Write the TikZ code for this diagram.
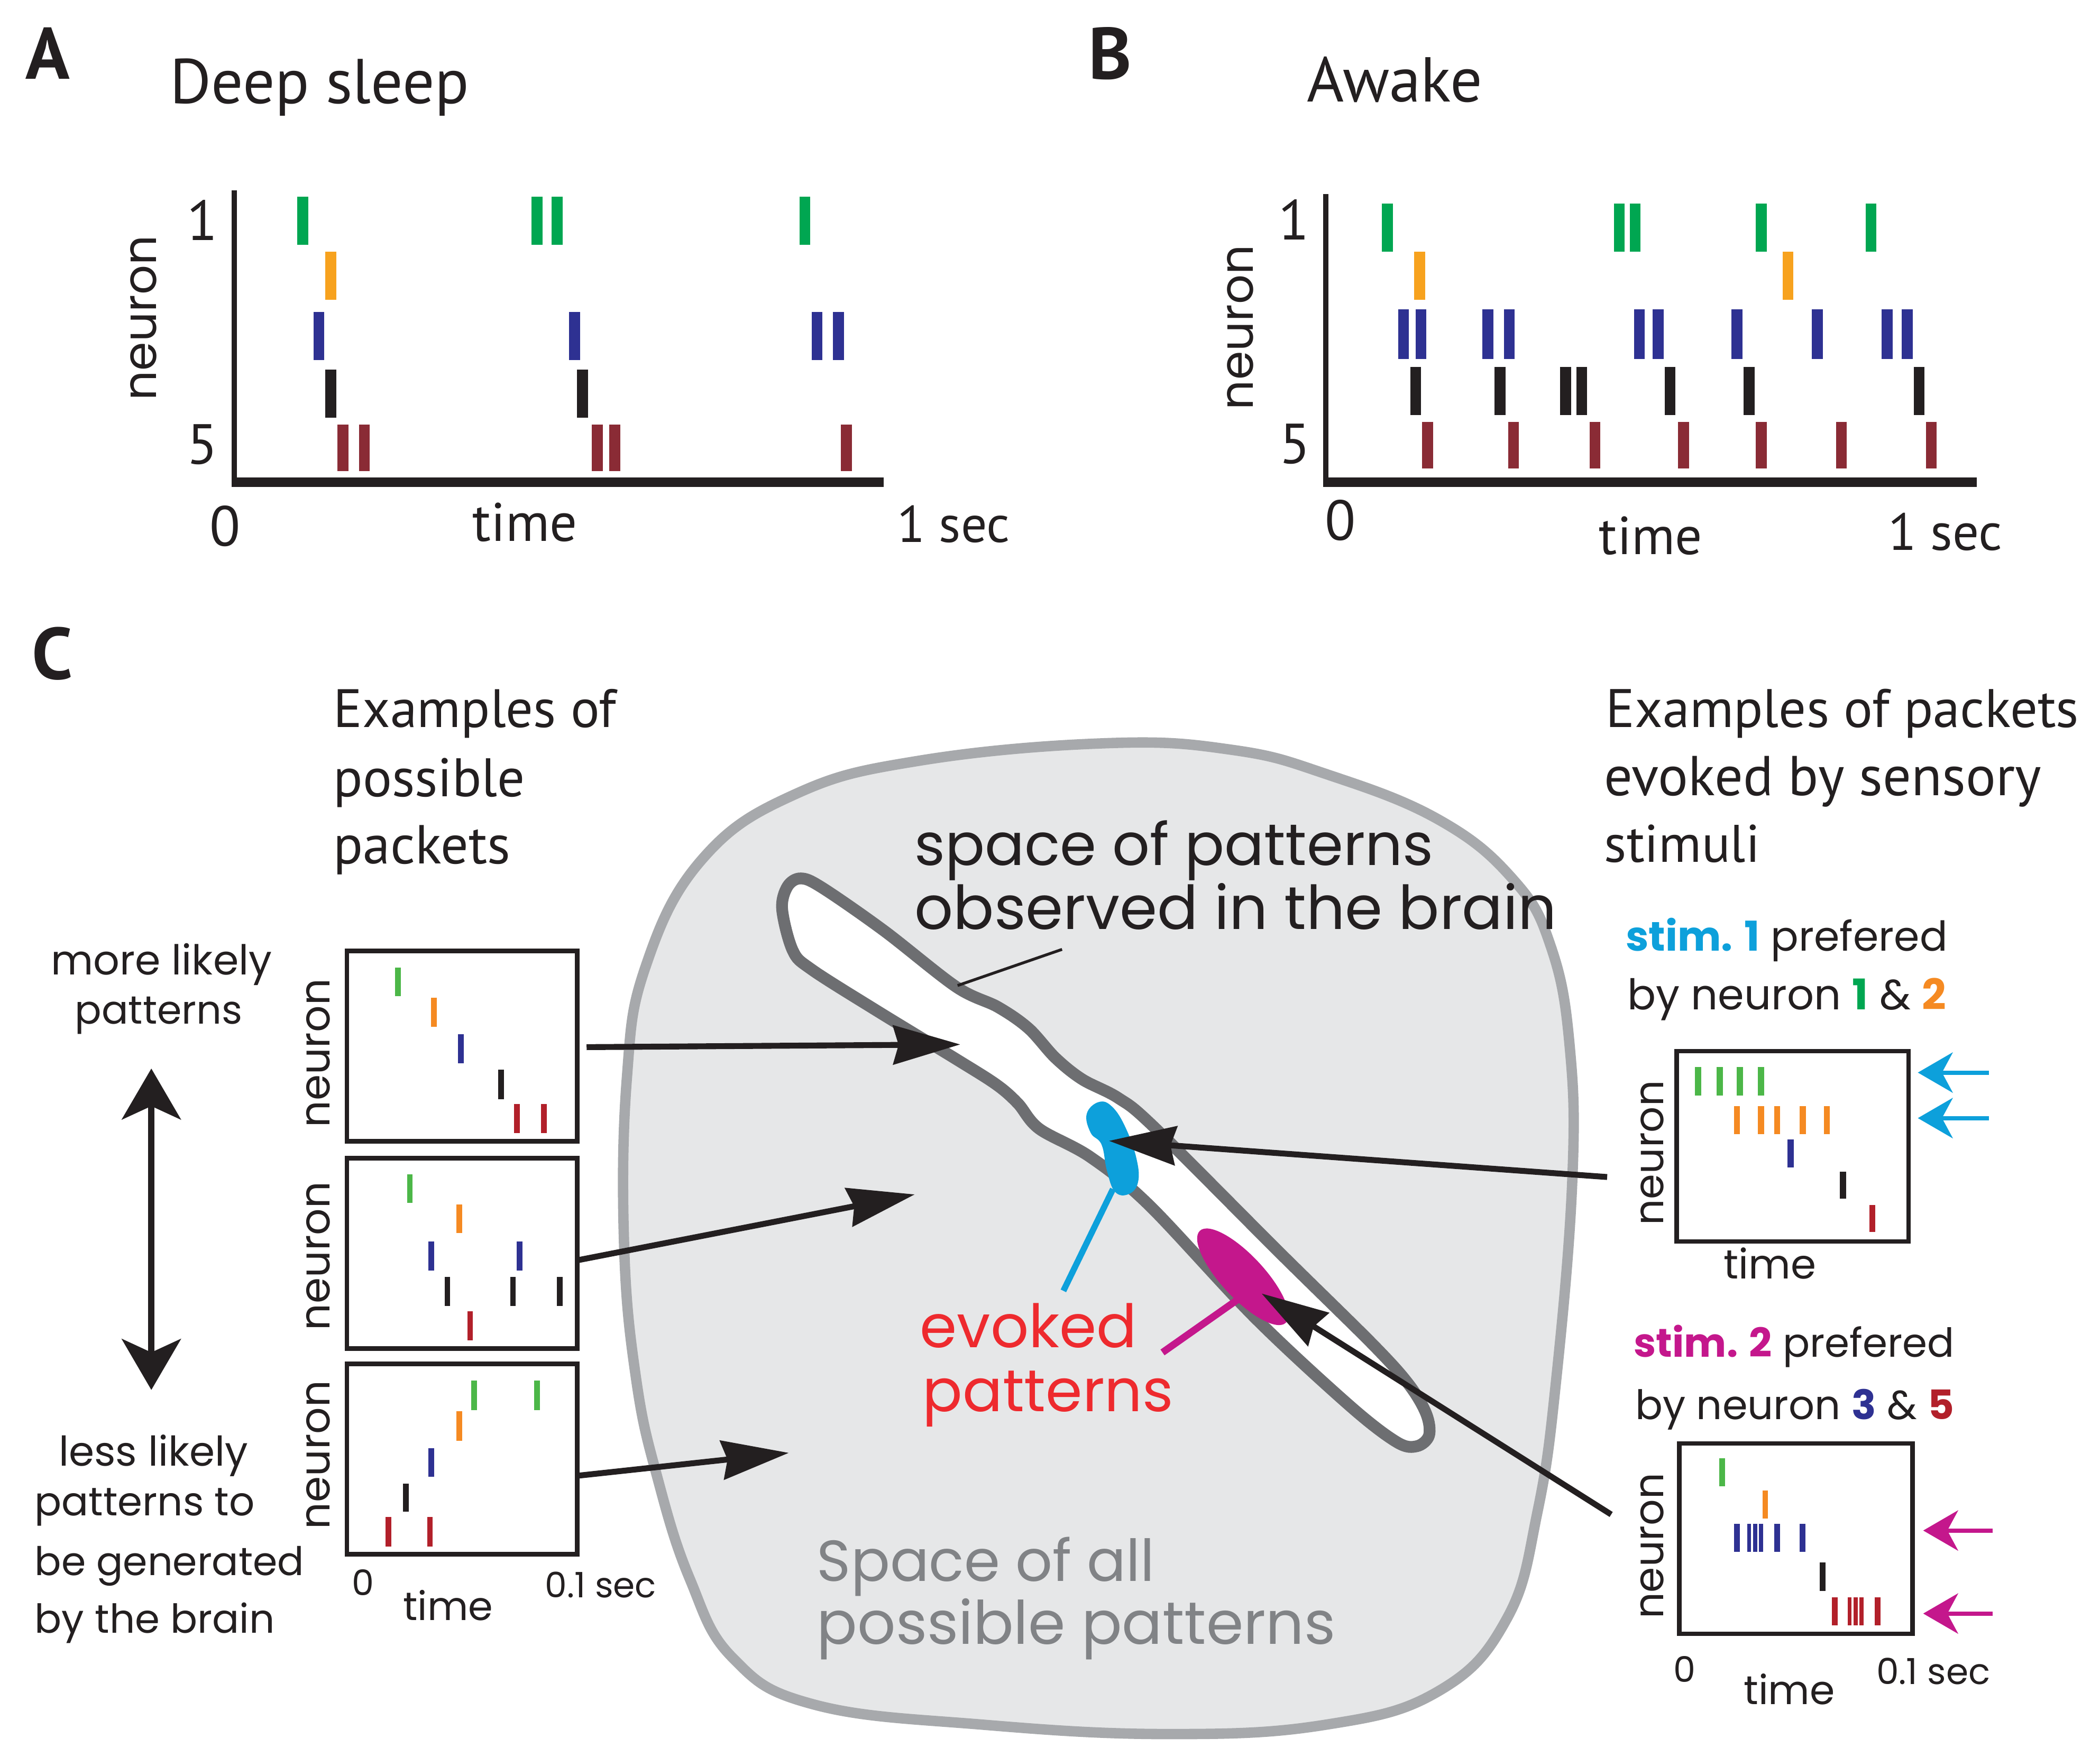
\documentclass[tikz,border=0pt]{standalone}
\usepackage{fontspec}
\setmainfont{Poppins}
\newfontfamily\myr{PT Sans}
\usetikzlibrary{arrows.meta}
\definecolor{tk}{HTML}{231F20}
\definecolor{sg}{HTML}{00A651}
\definecolor{so}{HTML}{F7A21E}
\definecolor{sb}{HTML}{2E3192}
\definecolor{sr}{HTML}{8A2B35}
\definecolor{cg}{HTML}{4CB748}
\definecolor{co}{HTML}{F58A22}
\definecolor{cr}{HTML}{B2202A}
\definecolor{cy}{HTML}{0DA0DB}
\definecolor{mg}{HTML}{C4178C}
\definecolor{evr}{HTML}{EE2A2E}
\definecolor{gfill}{HTML}{E6E7E8}
\definecolor{gline}{HTML}{A7A9AC}
\definecolor{gin}{HTML}{6D6E71}
\definecolor{gtext}{HTML}{818386}
\newcommand\fw[2]{\resizebox{#1mm}{!}{#2}}
\newcommand\spikes[5]{\foreach \xx in {#5}{\draw[draw=#1, line width=#4] (\xx,#2) -- (\xx,#3);}}
\begin{document}
\begin{tikzpicture}[x=0.01cm,y=-0.01cm,
  lbl/.style={inner sep=0pt, outer sep=0pt, anchor=base west, text=tk},
  cl/.style={inner sep=0pt, outer sep=0pt, anchor=center, text=tk},
  rot/.style={inner sep=0pt, outer sep=0pt, anchor=center, rotate=90, text=tk},
  big/.style={cl, font=\myr\bfseries\fontsize{15.5}{15.5}\selectfont},
  dig/.style={cl, font=\myr\fontsize{12}{12}\selectfont},
  sdig/.style={cl, font=\fontsize{7.5}{7.5}\selectfont},
  pbox/.style={draw=tk, line width=0.95pt, inner sep=0pt, minimum width=1.72cm, minimum height=1.42cm},
  barrow/.style={draw=tk, line width=1.25pt, -{Stealth[length=5mm,width=2.9mm,inset=0.4mm]}},
  sarrow/.style={line width=0.9pt, -{Stealth[length=2.6mm,width=3mm,inset=0.8mm]}}
]
\useasboundingbox (0,0) rectangle (1568,1312);
\fill[white] (0,0) rectangle (1568,1312);

% ---------------- Panel A ----------------
\node[big] (labA) at (35.5,40) {A};
\node[lbl, font=\myr] (tA) at (127,77) {\fw{22.3}{Deep sleep}};
\node[rot] (nA) at (107,237.5) {\fw{12.3}{neuron}};
\node[dig] (a1) at (151,164.5) {1};
\node[dig] (a5) at (151,332) {5};
\node[dig] (a0) at (168,393) {0};
\node[lbl, font=\myr] (atime) at (353,404) {\fw{7.8}{time}};
\node[lbl, font=\myr] (asec) at (670,405) {\fw{8.4}{1 sec}};
\draw[tk, line width=1.1pt] (175,142) -- (175,362);
\draw[tk, line width=2pt] (173,360) -- (660,360);
\spikes{sg}{147}{183}{2.3pt}{226,401,416,601}
\spikes{so}{188}{224}{2.3pt}{247}
\spikes{sb}{233}{269}{2.3pt}{238,429,610,626}
\spikes{tk}{276}{312}{2.3pt}{247,435}
\spikes{sr}{317}{352}{2.3pt}{256,272,446,459,632}

% ---------------- Panel B ----------------
\node[big] (labB) at (829,40) {B};
\node[lbl, font=\myr] (tB) at (976,76) {\fw{13.1}{Awake}};
\node[rot] (nB) at (926,244.5) {\fw{12.3}{neuron}};
\node[dig] (b1) at (966,164) {1};
\node[dig] (b5) at (967,331.5) {5};
\node[dig] (b0) at (1001,388.5) {0};
\node[lbl, font=\myr] (btime) at (1194,414) {\fw{7.7}{time}};
\node[lbl, font=\myr] (bsec) at (1410,411) {\fw{8.5}{1 sec}};
\draw[tk, line width=1.1pt] (990,145) -- (990,362);
\draw[tk, line width=2pt] (988,360) -- (1476,360);
\spikes{sg}{152}{188}{2.3pt}{1036,1209,1221,1315,1397}
\spikes{so}{188}{224}{2.3pt}{1060,1335}
\spikes{sb}{231}{268}{2.3pt}{1048,1061,1111,1127,1224,1238,1297,1357,1409,1424}
\spikes{tk}{274}{310}{2.3pt}{1057,1120,1169,1181,1247,1306,1433}
\spikes{sr}{315}{350}{2.3pt}{1066,1130,1191,1257,1315,1375,1442}

% ---------------- Panel C ----------------
\node[big] (labC) at (39,488) {C};
\node[lbl, font=\myr] (ex1) at (249,543) {\fw{21.1}{Examples of}};
\node[lbl, font=\myr] (ex2) at (249,595) {\fw{14.3}{possible}};
\node[lbl, font=\myr] (ex3) at (249,645) {\fw{13.2}{packets}};
\node[lbl, font=\myr] (ey1) at (1199,543) {\fw{35.3}{Examples of packets}};
\node[lbl, font=\myr] (ey2) at (1198,594) {\fw{32.6}{evoked by sensory}};
\node[lbl, font=\myr] (ey3) at (1198,644) {\fw{11.6}{stimuli}};

% big blob
\filldraw[fill=gfill, draw=gline, line width=2.2pt] plot[smooth cycle, tension=0.7] coordinates {
 (827,555) (920,560) (990,578) (1074,612) (1130,657) (1158,707) (1172,781) (1174,881)
 (1162,1030) (1148,1129) (1125,1209) (1074,1263) (990,1288) (873,1295) (734,1288)
 (608,1273) (547,1238) (515,1179) (491,1104) (475,1030) (466,930) (468,806) (482,722)
 (524,642) (594,593) (687,568)};
% inner elongated space
\filldraw[fill=white, draw=gin, line width=2.5pt] plot[smooth cycle, tension=0.55] coordinates {
 (584,679) (588,662) (598,656) (614,663) (660,695) (714,737) (745,752) (768,768) (788,790)
 (808,806) (835,820) (862,842) (955,935) (1025,1004) (1052,1034) (1065,1056) (1067,1072)
 (1058,1080) (1043,1077) (1008,1050) (937,984) (858,900) (814,864) (776,843) (760,824)
 (744,810) (714,791) (655,755) (606,724) (592,710)};
% blue blob
\fill[cy] plot[smooth cycle, tension=0.7] coordinates {
 (811.4,831.9) (820.4,823) (830.5,826.6) (840.6,842.5) (848.6,865.4) (849.7,883) (842.6,891.8)
 (832.5,890) (826.5,874.2) (822.5,854.8) (814.4,846)};
\draw[cy, line width=1.3pt] (831,888) -- (794,964);
% magenta ellipse
\begin{scope}[shift={(928,953.5)}, rotate=-47]
\fill[mg] (0,0) ellipse [x radius=47, y radius=16];
\end{scope}
\draw[mg, line width=1.5pt] (927,968.5) -- (868,1010);

\node[lbl] (sp1) at (683,646) {\fw{38.7}{space of patterns}};
\node[lbl] (sp2) at (683,694) {\fw{47.9}{observed in the brain}};
\coordinate (pt1) at (793,709);
\coordinate (pt2) at (715,736);
\draw[tk, line width=0.6pt] (pt1) -- (pt2);
\node[lbl, text=evr] (ev1) at (687,1006.5) {\fw{16.2}{evoked}};
\node[lbl, text=evr] (ev2) at (689,1054) {\fw{18.7}{patterns}};
\node[lbl, text=gtext] (sa1) at (610,1181) {\fw{25.2}{Space of all}};
\node[lbl, text=gtext] (sa2) at (610,1228) {\fw{38.7}{possible patterns}};

% left texts
\node[lbl] (ml1) at (38,728) {\fw{16.5}{more likely}};
\node[lbl] (ml2) at (56,764.6) {\fw{12.5}{patterns}};
\node[lbl] (ll1) at (44,1094.6) {\fw{14.1}{less likely}};
\node[lbl] (ll2) at (26,1132) {\fw{16.4}{patterns to}};
\node[lbl] (ll3) at (26,1176.5) {\fw{20.1}{be generated}};
\node[lbl] (ll4) at (26,1219.6) {\fw{17.9}{by the brain}};
\coordinate (dtop) at (113,798);
\coordinate (dbot) at (113,1038);
\draw[tk, line width=1.3pt, {Stealth[length=3.8mm,width=4.4mm,inset=1mm]}-{Stealth[length=3.8mm,width=4.4mm,inset=1mm]}] (dtop) -- (dbot);

% left boxes
\node[pbox] (box1) at (345,781.2) {};
\node[pbox] (box2) at (345,936) {};
\node[pbox] (box3) at (345,1089.6) {};
\node[rot] (nC1) at (237.5,786.5) {\fw{11.1}{neuron}};
\node[rot] (nC2) at (237.5,938) {\fw{11.1}{neuron}};
\node[rot] (nC3) at (237.5,1086.5) {\fw{11.1}{neuron}};
\node[sdig] (c0) at (271,1182) {0};
\node[lbl] (ctime) at (301,1210) {\fw{6.7}{time}};
\node[lbl] (csec) at (407,1193) {\fw{8.3}{0.1 sec}};
% box1 spikes
\spikes{cg}{722.5}{744}{1.2pt}{297}
\spikes{co}{745}{767}{1.2pt}{324}
\spikes{sb}{772.5}{794}{1.2pt}{344}
\spikes{tk}{799}{821}{1.2pt}{374}
\spikes{cr}{824.6}{846}{1.2pt}{386,406}
% box2 spikes
\spikes{cg}{877}{898.5}{1.2pt}{306}
\spikes{co}{899.5}{921}{1.2pt}{343}
\spikes{sb}{927}{949}{1.2pt}{322,388}
\spikes{tk}{953.7}{975.4}{1.2pt}{334,383,418}
\spikes{cr}{979.3}{1001}{1.2pt}{351}
% box3 spikes
\spikes{cg}{1031}{1053}{1.2pt}{354,401}
\spikes{co}{1054}{1076}{1.2pt}{343}
\spikes{sb}{1081.5}{1103}{1.2pt}{322}
\spikes{tk}{1108}{1129}{1.2pt}{303}
\spikes{cr}{1133}{1155}{1.2pt}{290,321}

% right boxes
\node[lbl] (st1) at (1214,710) {\fw{24.0}{\textcolor{cy}{\bfseries stim. 1} prefered}};
\node[lbl] (bn1) at (1215,754) {\fw{23.8}{by neuron \textcolor{sg}{\bfseries 1} \& \textcolor{co}{\bfseries 2}}};
\node[pbox, minimum width=1.73cm] (box4) at (1338.5,856) {};
\node[rot] (nR1) at (1233.5,861) {\fw{10.8}{neuron}};
\node[lbl] (rtime1) at (1287,955) {\fw{6.9}{time}};
\spikes{cg}{797}{818}{1.3pt}{1268,1284,1299,1315}
\spikes{co}{826}{847}{1.3pt}{1297,1315,1327,1346,1364}
\spikes{sb}{851}{872}{1.3pt}{1337}
\spikes{tk}{875}{895}{1.3pt}{1376}
\spikes{cr}{900}{920}{1.3pt}{1398}

\node[lbl] (st2) at (1220,1013.6) {\fw{23.9}{\textcolor{mg}{\bfseries stim. 2} prefered}};
\node[lbl] (bn2) at (1221,1060) {\fw{23.8}{by neuron \textcolor{sb}{\bfseries 3} \& \textcolor{cr}{\bfseries 5}}};
\node[pbox, minimum width=1.74cm] (box5) at (1341,1149) {};
\node[rot] (nR2) at (1233.5,1154.5) {\fw{10.9}{neuron}};
\node[sdig] (r0) at (1258,1246.5) {0};
\node[lbl] (rtime2) at (1302,1273) {\fw{6.8}{time}};
\node[lbl] (rsec) at (1401,1258) {\fw{8.5}{0.1 sec}};
\spikes{cg}{1089}{1110}{1.2pt}{1286}
\spikes{co}{1113}{1134}{1.2pt}{1318}
\spikes{sb}{1138}{1159}{1.2pt}{1297,1327,1346}
\spikes{sb}{1138}{1159}{0.85pt}{1306,1310.5,1315}
\spikes{tk}{1167}{1188}{1.2pt}{1361}
\spikes{cr}{1193}{1214}{1.2pt}{1370,1402}
\spikes{cr}{1193}{1214}{0.85pt}{1381,1385.5,1390}

% stimulus arrows
\coordinate (cs1) at (1485,801); \coordinate (ct1) at (1432,801);
\coordinate (cs2) at (1485,835); \coordinate (ct2) at (1432,835);
\draw[cy, sarrow] (cs1) -- (ct1);
\draw[cy, sarrow] (cs2) -- (ct2);
\coordinate (ms1) at (1488,1143); \coordinate (mt1) at (1436,1143);
\coordinate (ms2) at (1488,1205); \coordinate (mt2) at (1436,1205);
\draw[mg, sarrow] (ms1) -- (mt1);
\draw[mg, sarrow] (ms2) -- (mt2);

% black arrows into the space
\coordinate (s1) at (438,782); \coordinate (t1) at (717,780);
\coordinate (s2) at (432,941); \coordinate (t2) at (683,892);
\coordinate (s3) at (432,1102); \coordinate (t3) at (589,1085);
\coordinate (s4) at (1200,879); \coordinate (t4) at (828,852);
\coordinate (s5) at (1203,1131); \coordinate (t5) at (942,966);
\draw[barrow] (s1) -- (t1);
\draw[barrow] (s2) -- (t2);
\draw[barrow] (s3) -- (t3);
\draw[barrow] (s4) -- (t4);
\draw[barrow] (s5) -- (t5);
\end{tikzpicture}
\end{document}
